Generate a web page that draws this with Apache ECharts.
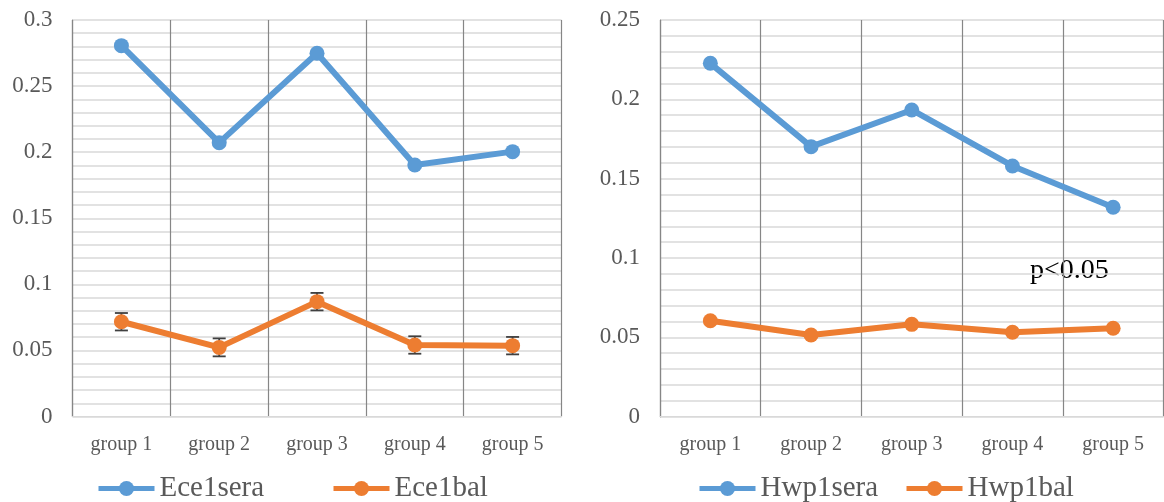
<!DOCTYPE html>
<html>
<head>
<meta charset="utf-8">
<script src="https://cdn.jsdelivr.net/npm/echarts@6/dist/echarts.min.js"></script>
<style>
  html, body { margin: 0; padding: 0; background: #fff; }
  #chart { width: 1164px; height: 502px; }
</style>
</head>
<body>
<div id="chart"></div>
<script>
// Groups shared by both panels
const groups = ['group 1', 'group 2', 'group 3', 'group 4', 'group 5'];

// Left panel: Ece1 measurements
const ece1sera = [0.2806, 0.2072, 0.2748, 0.1903, 0.2004];
const ece1bal = [0.0717, 0.0523, 0.0869, 0.0541, 0.0536];
const ece1balErr = [0.0066, 0.0068, 0.0066, 0.0066, 0.0066];

// Right panel: Hwp1 measurements
const hwp1sera = [0.2227, 0.1702, 0.1933, 0.1580, 0.1320];
const hwp1bal = [0.0605, 0.0515, 0.0582, 0.0532, 0.0557];

// Axis ranges and the annotation
const leftAxisMax = 0.3;
const rightAxisMax = 0.25;
const majorStep = 0.05;
const noteText = 'p<0.05';

const BLUE = '#5B9BD5';
const ORANGE = '#ED7D31';
const TEXT = '#595959';
const SERIF = '"Liberation Serif", "Times New Roman", serif';

const chart = echarts.init(document.getElementById('chart'), null, { renderer: 'canvas' });

function xAxisFor(gridIndex) {
  return {
    type: 'category',
    gridIndex,
    data: groups,
    boundaryGap: true,
    axisLine: { show: true, lineStyle: { color: '#d9d9d9', width: 1 } },
    axisTick: { show: false },
    axisLabel: { color: TEXT, fontFamily: SERIF, fontSize: 20, margin: 18 },
    splitLine: { show: true, interval: 0, lineStyle: { color: '#868686', width: 1.2 } }
  };
}

function yAxisFor(gridIndex, max) {
  return {
    type: 'value',
    gridIndex,
    min: 0,
    max,
    interval: majorStep,
    axisLine: { show: true, lineStyle: { color: '#868686', width: 1.2 } },
    axisTick: { show: false },
    axisLabel: { color: TEXT, fontFamily: SERIF, fontSize: 23, margin: 20 },
    splitLine: { show: true, lineStyle: { color: '#d9d9d9', width: 1.5 } },
    minorTick: { show: false, splitNumber: 5 },
    minorSplitLine: { show: true, lineStyle: { color: '#d9d9d9', width: 1.5 } }
  };
}

function lineSeries(name, data, color, axisIndex) {
  return {
    name,
    type: 'line',
    xAxisIndex: axisIndex,
    yAxisIndex: axisIndex,
    data,
    symbol: 'circle',
    symbolSize: 15,
    lineStyle: { color, width: 6 },
    itemStyle: { color },
    emphasis: { disabled: true },
    z: 3
  };
}

function legendFor(name, left) {
  return {
    data: [name],
    left,
    top: 474,
    itemWidth: 56,
    itemHeight: 19,
    itemGap: 0,
    lineStyle: { width: 5 },
    textStyle: { color: TEXT, fontFamily: SERIF, fontSize: 29 },
    padding: 0
  };
}

// Error bars for the Ece1bal series
const errorData = ece1bal.map((v, i) => [i, v - ece1balErr[i], v + ece1balErr[i]]);

const option = {
  backgroundColor: '#ffffff',
  animation: false,
  grid: [
    { left: 72.5, top: 20, width: 489, height: 396.5, containLabel: false },
    { left: 660, top: 20, width: 503.5, height: 396.7, containLabel: false }
  ],
  xAxis: [xAxisFor(0), xAxisFor(1)],
  yAxis: [yAxisFor(0, leftAxisMax), yAxisFor(1, rightAxisMax)],
  legend: [
    legendFor('Ece1sera', 96),
    legendFor('Ece1bal', 331),
    legendFor('Hwp1sera', 697),
    legendFor('Hwp1bal', 904)
  ],
  graphic: [
    {
      type: 'text',
      left: 1030,
      top: 257,
      style: { text: noteText, fill: '#000000', font: '28px ' + SERIF }
    }
  ],
  series: [
    lineSeries('Ece1sera', ece1sera, BLUE, 0),
    lineSeries('Ece1bal', ece1bal, ORANGE, 0),
    {
      type: 'custom',
      name: 'Ece1bal error',
      xAxisIndex: 0,
      yAxisIndex: 0,
      data: errorData,
      z: 2,
      renderItem: function (params, api) {
        const x = api.value(0);
        const lo = api.coord([x, api.value(1)]);
        const hi = api.coord([x, api.value(2)]);
        const half = 6.5;
        const style = { stroke: '#404040', lineWidth: 1.8 };
        return {
          type: 'group',
          children: [
            { type: 'line', shape: { x1: lo[0], y1: lo[1], x2: hi[0], y2: hi[1] }, style },
            { type: 'line', shape: { x1: lo[0] - half, y1: lo[1], x2: lo[0] + half, y2: lo[1] }, style },
            { type: 'line', shape: { x1: hi[0] - half, y1: hi[1], x2: hi[0] + half, y2: hi[1] }, style }
          ]
        };
      }
    },
    lineSeries('Hwp1sera', hwp1sera, BLUE, 1),
    lineSeries('Hwp1bal', hwp1bal, ORANGE, 1)
  ]
};

chart.setOption(option);
</script>
</body>
</html>
